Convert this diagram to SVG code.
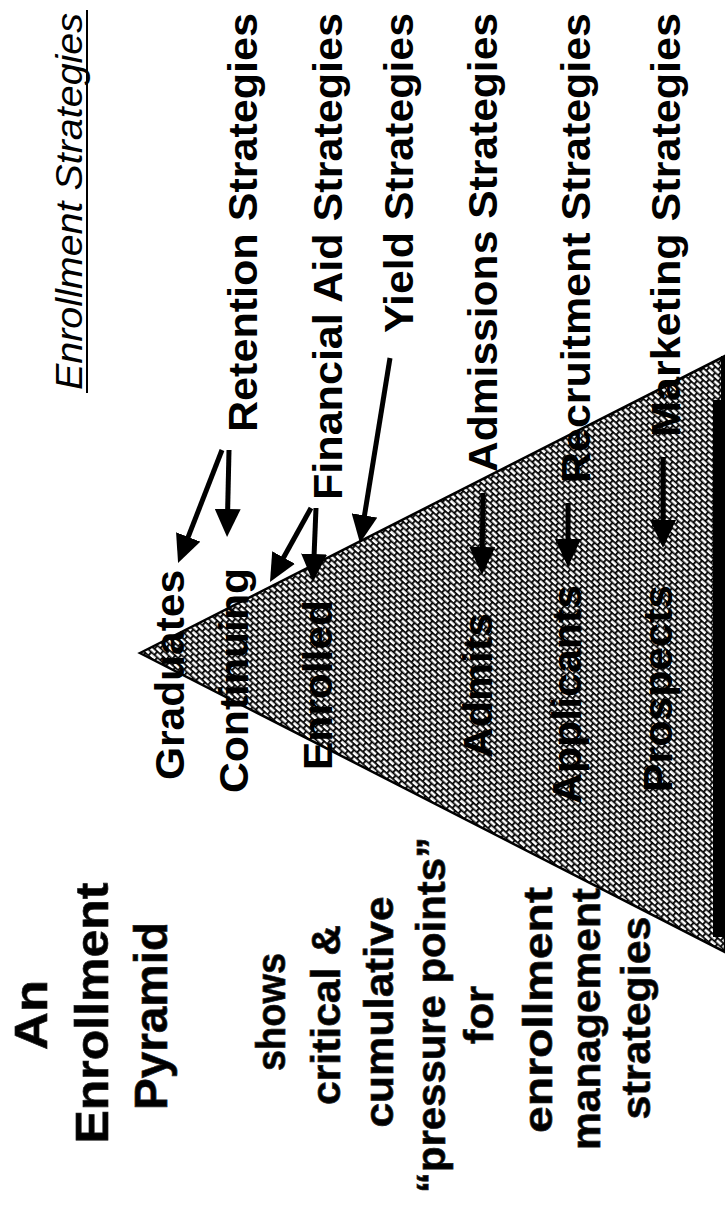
<svg xmlns="http://www.w3.org/2000/svg" width="725" height="1211" viewBox="0 0 725 1211">
<style>
.t{font-family:"Liberation Sans",Arial,Helvetica,sans-serif;font-weight:bold;fill:#000}
.r{font-size:40px}
.big{font-size:47px;stroke:#222;stroke-width:0.7}
.mid{font-size:40px;stroke:#222;stroke-width:0.7}
.ttl{font-family:"Liberation Sans",Arial,Helvetica,sans-serif;font-style:italic;font-size:37px;fill:#000}
.arr{stroke:#000;stroke-width:5;fill:none;marker-end:url(#ah)}
</style>
<defs>
<pattern id="brick" width="8" height="9" patternUnits="userSpaceOnUse" patternTransform="rotate(42)">
<rect width="8" height="9" fill="#fff"/>
<path d="M0 0.9H8M0 5.4H8M0.9 0.9V5.4M4.9 5.4V9" stroke="#000" stroke-width="1.8" fill="none"/>
</pattern>
<marker id="ah" viewBox="0 0 28 26" refX="8" refY="13" markerWidth="28" markerHeight="26" markerUnits="userSpaceOnUse" orient="auto">
<path d="M0 0L28 13L0 26z" fill="#000"/>
</marker>
</defs>
<rect width="725" height="1211" fill="#fff"/>

<g id="pyramid">
<polygon points="140,653 725,356 725,952" fill="url(#brick)" stroke="#000" stroke-width="2.5" stroke-linejoin="miter"/>
<rect x="721" y="356" width="4" height="50" fill="#000"/>
<rect x="713" y="400" width="12" height="537" fill="#000"/>
</g>

<g id="title">
<text class="ttl" transform="translate(82,390) rotate(-90)" textLength="377" lengthAdjust="spacingAndGlyphs">Enrollment Strategies</text>
<line x1="87" y1="10" x2="87" y2="393" stroke="#000" stroke-width="2"/>
</g>

<g id="strategy-retention"><text class="t r" transform="translate(257,432) rotate(-90)" textLength="419" lengthAdjust="spacingAndGlyphs">Retention Strategies</text></g>
<g id="strategy-financial-aid"><text class="t r" transform="translate(342,500) rotate(-90)" textLength="487" lengthAdjust="spacingAndGlyphs">Financial Aid Strategies</text></g>
<g id="strategy-yield"><text class="t r" transform="translate(413,333) rotate(-90)" textLength="320" lengthAdjust="spacingAndGlyphs">Yield Strategies</text></g>
<g id="strategy-admissions"><text class="t r" transform="translate(497,472) rotate(-90)" textLength="459" lengthAdjust="spacingAndGlyphs">Admissions Strategies</text></g>
<g id="strategy-recruitment"><text class="t r" transform="translate(590,483) rotate(-90)" textLength="470" lengthAdjust="spacingAndGlyphs">Recruitment Strategies</text></g>
<g id="strategy-marketing"><text class="t r" transform="translate(680,437) rotate(-90)" textLength="424" lengthAdjust="spacingAndGlyphs">Marketing Strategies</text></g>

<g id="level-graduates"><text class="t r" transform="translate(184,780) rotate(-90)" textLength="210" lengthAdjust="spacingAndGlyphs">Graduates</text></g>
<g id="level-continuing"><text class="t r" transform="translate(248,793) rotate(-90)" textLength="225" lengthAdjust="spacingAndGlyphs">Continuing</text></g>
<g id="level-enrolled"><text class="t r" transform="translate(332,770) rotate(-90)" textLength="170" lengthAdjust="spacingAndGlyphs">Enrolled</text></g>
<g id="level-admits"><text class="t r" transform="translate(492,758) rotate(-90)" textLength="145" lengthAdjust="spacingAndGlyphs">Admits</text></g>
<g id="level-applicants"><text class="t r" transform="translate(581,804) rotate(-90)" textLength="219" lengthAdjust="spacingAndGlyphs">Applicants</text></g>
<g id="level-prospects"><text class="t r" transform="translate(672,792) rotate(-90)" textLength="207" lengthAdjust="spacingAndGlyphs">Prospects</text></g>

<g id="description" text-anchor="middle">
<text class="t big" transform="translate(47,1015) rotate(-90)" textLength="70" lengthAdjust="spacingAndGlyphs">An</text>
<text class="t big" transform="translate(108,1013) rotate(-90)" textLength="261" lengthAdjust="spacingAndGlyphs">Enrollment</text>
<text class="t big" transform="translate(167,1016) rotate(-90)" textLength="188" lengthAdjust="spacingAndGlyphs">Pyramid</text>
<text class="t mid" transform="translate(285,1012) rotate(-90)" textLength="118" lengthAdjust="spacingAndGlyphs">shows</text>
<text class="t mid" transform="translate(340,1015) rotate(-90)" textLength="180" lengthAdjust="spacingAndGlyphs">critical &amp;</text>
<text class="t mid" transform="translate(393,1012) rotate(-90)" textLength="231" lengthAdjust="spacingAndGlyphs">cumulative</text>
<text class="t mid" transform="translate(445,1015) rotate(-90)" textLength="356" lengthAdjust="spacingAndGlyphs">“pressure points”</text>
<text class="t mid" transform="translate(493,1015) rotate(-90)" textLength="58" lengthAdjust="spacingAndGlyphs">for</text>
<text class="t mid" transform="translate(552,1010) rotate(-90)" textLength="246" lengthAdjust="spacingAndGlyphs">enrollment</text>
<text class="t mid" transform="translate(600,1019) rotate(-90)" textLength="262" lengthAdjust="spacingAndGlyphs">management</text>
<text class="t mid" transform="translate(650,1018) rotate(-90)" textLength="203" lengthAdjust="spacingAndGlyphs">strategies</text>
</g>

<g id="connectors">
<line class="arr" x1="222" y1="450" x2="185.3" y2="544.4"/>
<line class="arr" x1="229" y1="450" x2="227.5" y2="517"/>
<line class="arr" x1="311" y1="508" x2="279.7" y2="564.5"/>
<line class="arr" x1="316" y1="508" x2="313.8" y2="562"/>
<line class="arr" x1="390" y1="358" x2="363.2" y2="523.3"/>
<line class="arr" x1="483" y1="493" x2="482.2" y2="555"/>
<line class="arr" x1="568" y1="503" x2="568" y2="547"/>
<line class="arr" x1="663" y1="457" x2="663" y2="528"/>
</g>
</svg>
